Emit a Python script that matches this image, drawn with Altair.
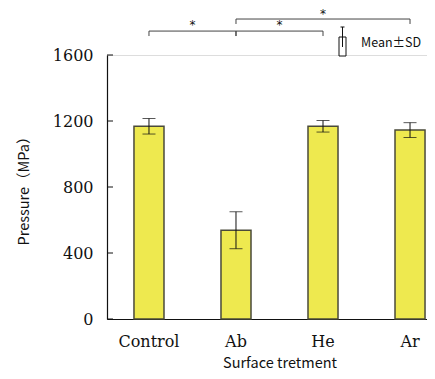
import altair as alt
import pandas as pd

categories = ["Control", "Ab", "He", "Ar"]
means = [1168, 538, 1168, 1145]
sds = [47, 112, 35, 45]
y_ticks = [0, 400, 800, 1200, 1600]

# significance brackets
br_from = ["Control", "Ab", "Ab"]
br_to = ["Ab", "He", "Ar"]
br_level = [1745, 1745, 1818]

XT = "Surface tretment"
YT = "Pressure（MPa）"

df = pd.DataFrame({"cat": categories, "mean": means, "sd": sds})
df["lo"] = df["mean"] - df["sd"]
df["hi"] = df["mean"] + df["sd"]

xscale = alt.Scale(domain=categories, paddingInner=0.655, paddingOuter=0.31, range=[0, 345])
yscale = alt.Scale(domain=[0, 1600], nice=False)


def xenc(field):
    return alt.X(field + ":N", scale=xscale, sort=categories, title=XT)


def yenc(field):
    return alt.Y(field + ":Q", scale=yscale, title=YT)


xaxis = alt.Axis(labelAngle=0, ticks=False, labelFont="DejaVu Serif", labelFontSize=16,
                 labelColor="#111", labelPadding=14, domainColor="#111", domainWidth=1.2,
                 titleFont="Noto Sans CJK JP", titleFontSize=14.5, titleFontWeight="normal",
                 titleColor="#111", titlePadding=7)
yaxis = alt.Axis(values=y_ticks, format="d", ticks=False, grid=False,
                 labelFont="DejaVu Serif", labelFontSize=16, labelColor="#111",
                 labelPadding=14, domainColor="#111", domainWidth=1.2,
                 titleFont="Noto Sans CJK JP", titleFontSize=14.5, titleFontWeight="normal",
                 titleColor="#111", titlePadding=21)

bars = alt.Chart(df).mark_bar(fill="#EEE94F", stroke="#4a4a3a", strokeWidth=1.5).encode(
    x=alt.X("cat:N", scale=xscale, sort=categories, title=XT, axis=xaxis),
    y=alt.Y("mean:Q", scale=yscale, title=YT, axis=yaxis))

err = alt.Chart(df).mark_rule(color="#111", strokeWidth=1).encode(
    x=xenc("cat"), y=yenc("lo"), y2="hi:Q")
cap_hi = alt.Chart(df).mark_tick(color="#111", thickness=1, size=13).encode(
    x=xenc("cat"), y=yenc("hi"))
cap_lo = alt.Chart(df).mark_tick(color="#111", thickness=1, size=13).encode(
    x=xenc("cat"), y=yenc("lo"))

tick_df = pd.DataFrame({"v": y_ticks})
yt = alt.Chart(tick_df).mark_rule(color="#111", strokeWidth=1).encode(
    y=yenc("v"), x=alt.value(0), x2=alt.value(6))

bdf = pd.DataFrame({"a": br_from, "b": br_to, "lvl": br_level})
bdf["lvl_lo"] = bdf["lvl"] - 30
bdf["star_y"] = bdf["lvl"] + 35

brk_h = alt.Chart(bdf).mark_rule(color="#444", strokeWidth=1).encode(
    x=xenc("a"), x2="b:N", y=yenc("lvl"))
brk_l = alt.Chart(bdf).mark_rule(color="#444", strokeWidth=1).encode(
    x=xenc("a"), y=yenc("lvl"), y2="lvl_lo:Q")
brk_r = alt.Chart(bdf).mark_rule(color="#444", strokeWidth=1).encode(
    x=xenc("b"), y=yenc("lvl"), y2="lvl_lo:Q")

stars_adj = alt.Chart(bdf.iloc[:2]).mark_text(
    text="*", font="DejaVu Sans", fontSize=12, color="#111", baseline="middle", dx=43.5).encode(
    x=xenc("a"), y=yenc("star_y"))
stars_wide = alt.Chart(pd.DataFrame({"m": ["He"], "star_y": [br_level[2] + 28]})).mark_text(
    text="*", font="DejaVu Sans", fontSize=12, color="#111", baseline="middle").encode(
    x=xenc("m"), y=yenc("star_y"))

# legend (Mean±SD)
one = pd.DataFrame({"k": [0]})
leg_box = alt.Chart(one).mark_rect(fill="white", stroke="#111", strokeWidth=1).encode(
    x=alt.value(232), x2=alt.value(239), y=alt.value(-18), y2=alt.value(1))
leg_whisk = alt.Chart(one).mark_rule(color="#111", strokeWidth=1).encode(
    x=alt.value(235.5), y=alt.value(-28), y2=alt.value(-8))
leg_cap = alt.Chart(one).mark_rule(color="#111", strokeWidth=1).encode(
    x=alt.value(233.5), x2=alt.value(237.5), y=alt.value(-28))
leg_text = alt.Chart(one).mark_text(
    text="Mean±SD", font="Noto Sans CJK JP", fontSize=12.5, color="#111", align="left",
    baseline="middle").encode(x=alt.value(254), y=alt.value(-12))

chart = alt.layer(
    bars, err, cap_hi, cap_lo, yt, brk_h, brk_l, brk_r, stars_adj, stars_wide,
    leg_box, leg_whisk, leg_cap, leg_text
).properties(
    width=320, height=264,
    autosize=alt.AutoSizeParams(type="none"),
    padding={"left": 99, "top": 47, "right": 0, "bottom": 52},
).configure_view(stroke=None).configure(background="white")

chart.save("out.html", embed_options={"renderer": "svg", "actions": False})
